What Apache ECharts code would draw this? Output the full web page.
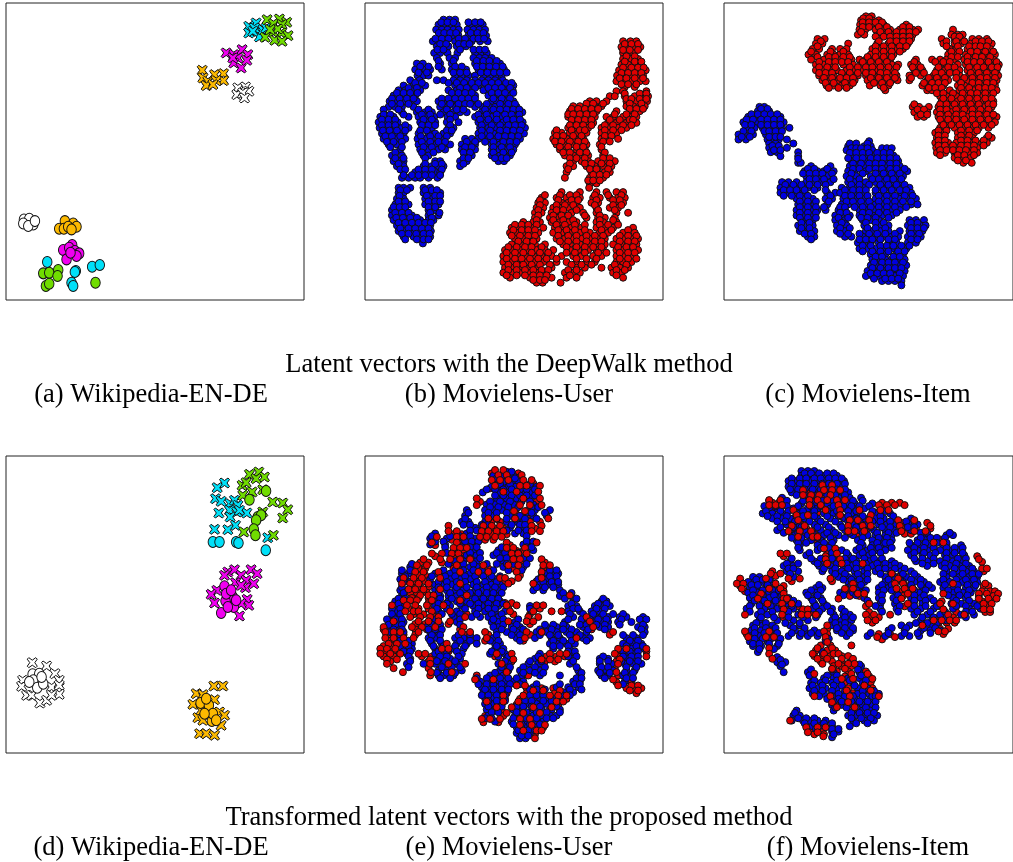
<!DOCTYPE html>
<html><head><meta charset="utf-8">
<script src="https://cdn.jsdelivr.net/npm/echarts@6/dist/echarts.min.js"></script>
<style>html,body{margin:0;padding:0;background:#fff;overflow:hidden}#c{width:1013px;height:862px}</style>
</head><body><div id="c"></div>
<script>
// Each row: [y, x1, x2, ...]
const bBlue=[[60,250,268,285],[75,235,252,270,290,330,350,368],[90,228,245,262,280,296,322,340,358,375],[108,240,258,275,295,325,345,362,378],[125,218,235,252,285,305,335,360,383],[140,230,265,290,305,318],[160,222,240,262,292,345,365,380],[175,230,268,285,340,358,375,395],[192,170,188,240,275,345,365,385,405,420],[210,165,180,195,210,245,275,295,318,355,375,395,415,432],[228,172,190,205,285,305,325,345,370,390,410,425],[242,150,178,230,250,280,300,320,345,365,385,405,428],[258,130,160,175,195,285,305,330,355,378,395,418,440,460],[272,115,135,155,180,265,290,310,335,370,390,410,430,458],[288,100,122,145,165,280,300,320,345,385,405,425,445],[305,88,110,130,150,170,235,250,275,295,315,335,395,410,440,460],[322,85,105,125,160,240,262,285,305,345,368,388,405,430,450,470],[338,125,170,195,215,250,280,300,320,365,385,410,430,450,470,487],[352,60,80,100,145,175,200,222,262,285,345,370,395,425,445,465],[368,55,72,90,112,180,205,225,260,295,355,380,405,430,450,470,488],[385,58,75,95,125,145,190,215,265,280,360,385,410,435,455,475,495],[402,65,85,105,130,175,205,225,250,270,355,375,400,425,445,470,492],[418,70,90,112,135,172,195,215,240,315,335,355,385,410,435,460,480],[435,85,110,175,200,225,250,270,305,325,345,395,420,445,465],[450,120,180,205,235,255,305,325,345,395,418,440,460],[468,95,125,190,205,315,335,395,420,450],[485,100,120,130,225,240,300,320,415,432],[500,110,130,190,215,235,250,300],[518,130,165,185,205,225,240],[535,125,145,165,180,205,232],[565,115,130,150,190,210],[580,115,130,190,215,240],[598,110,130,195,215,235],[615,105,125,145,195,215,235],[632,95,115,135,205,225],[648,95,115,135,155,205,235],[662,100,120,140,160,180,205,220],[678,110,130,150,170,190,210],[695,115,135,155,175,195,212],[712,130,160,180,195,210],[732,188]];
const bBlue2=[[68,243,262,280,325,345,362],[100,236,252,270,288,332,352,370],[117,226,245,265,296,315,340,355,372],[133,240,258,296,312,328],[150,232,250,300,340,358,375],[184,235,280,350,370,388,410],[201,180,205,235,285,305,350,368,388,408,428],[219,175,200,280,300,320,362,382,402,420,440],[250,165,185,265,290,312,335,355,375,395,415,438,455],[265,145,170,300,320,345,385,405,425,450],[280,110,130,150,172,275,295,315,335,395,415,435,460],[297,95,118,140,160,245,265,285,305,325,345,400,425,450],[313,95,120,145,245,270,295,315,330,355,380,420,445,465],[330,70,115,175,205,260,290,310,375,400,420,440,460,478],[345,70,90,130,185,210,240,270,355,380,410,435,455,478],[360,65,85,105,190,215,270,360,385,410,440,460,480],[377,65,85,105,135,185,205,225,270,365,395,420,445,465,485],[393,68,88,110,135,180,200,260,275,365,390,420,440,460,480],[410,75,95,120,182,210,235,260,365,390,415,435,455,475],[427,80,100,125,185,210,235,255,320,345,375,400,430,450,470],[443,90,125,190,215,245,315,335,400,425,450],[459,105,185,220,310,330,400,430,455],[476,105,130,195,310,325,405,425,440],[493,115,195,225,245,310],[510,120,135,175,195,215,245],[527,130,155,175,195,215,240],[572,120,140,195,215,230],[589,118,200,225,240],[606,115,135,205,225,240],[623,100,118,135,205,225],[640,105,125,145,210,238],[655,108,128,150,170,215],[670,115,135,155,175,195,212],[687,120,145,165,185,205],[703,125,145,168,190,208],[720,135,170,190,205]];
const bRed=[[125,790,812,830],[142,785,805,825,842],[160,790,820],[178,790,815,835],[195,785,805,825,845],[212,778,800,820,840,858],[228,772,790,810,830,850],[245,770,790,815,840,858],[262,795,825],[275,770,790,860],[290,750,765,795,825,845,865],[305,690,710,740,800,830,850,862],[320,640,660,685,705,725,800,820,840,855],[335,630,650,670,690,710,770,815,840],[352,625,645,665,685,705,740,760,790,815,830],[370,640,660,680,700,745,770,800,830],[385,625,645,665,685,725,750,775,800],[400,585,605,630,655,680,725,745,770],[418,580,600,620,645,670,725,745,775],[435,590,610,635,660,680,720],[450,600,620,650,675,725],[468,615,640,665,685,730],[485,640,665,685,715,740,765],[500,620,640,680,705,730,755],[518,620,695,715,735,750],[535,615,690,710,730],[552,690,710],[565,688],[578,660,605,710,740,770,790],[595,545,590,620,640,660,700,720,750,775,795],[610,535,555,605,625,650,695,715,770,790],[625,530,550,580,600,625,660,710,750,775],[640,525,545,575,595,635,670,710,770,805],[655,525,570,590,615,680,715,735,765],[668,490,520,540,575,600,625,650,710,730,770],[685,455,475,495,515,550,585,610,635,665,710,735,760,820],[700,450,470,495,515,535,580,605,630,660,690,720,745,790,825],[718,465,490,515,530,590,615,640,665,695,715,735,770,795,815,835],[735,455,480,505,525,555,610,630,660,690,715,735,760,785,810,830],[752,435,455,480,505,530,555,580,630,655,685,710,730,770,790,815,835],[770,430,450,475,495,520,545,575,605,640,665,700,725,770,795,820],[788,430,455,480,500,525,550,590,620,650,680,705,770,790,815],[805,435,460,485,510,535,575,650,675,725,755,780,805],[820,430,455,480,505,530,555,615,640,660,760,785],[835,450,510,530,550,575,620,650,790],[850,530,548,602]];
const bRed2=[[133,795,815,835],[151,790,810,835],[170,800,825],[186,795,825,845],[204,790,815,835,852],[220,785,805,825,845],[236,780,800,825,850],[254,785,805,830],[282,795,840,860],[298,800,815,840,860],[312,680,700,730,810,845],[328,635,655,675,695,715,810,830,850],[344,625,640,660,680,700,765,800,825],[361,635,655,675,695,750,780,810,820],[377,630,650,670,695,735,760,790,815],[392,590,635,660,675,735,760,785],[409,590,610,640,665,735,755],[426,585,605,630,655,675,730,750],[442,600,625,650,670,725],[459,610,630,660,680,735],[476,630,650,675,730,750],[492,630,675,695,725,750],[509,625,690,710,745],[526,700,720,740],[543,685,700,720],[587,555,600,630,650,705,745,785],[602,540,595,635,655,710,760,780],[617,540,590,615,640,705,760,785],[632,535,590,610,650,715,765],[648,535,580,605,625,675,720],[662,530,580,610,640,720,760],[676,465,485,505,530,590,615,645,675,720,745,775],[692,460,485,505,525,595,620,645,675,725,755,805],[709,455,480,505,525,595,625,650,680,705,730,780,805,830],[726,475,500,520,600,625,650,680,705,725,780,805,825],[743,445,470,495,515,545,620,650,675,700,725,775,800,820],[760,440,465,490,515,540,565,620,645,675,715,740,780,805,825],[778,440,465,485,510,535,560,590,650,680,710,780,805,830],[796,445,470,490,515,540,570,635,665,695,765,800],[812,445,470,495,520,545,565,625,650,770,795],[828,440,470,495,520,540,560,630,770],[842,520,540,555]];
const cRed=[[50,450,468],[62,435,450,470,490],[75,432,450,470,490,505,575],[90,430,448,480,500,525,555,575,595,612,720],[105,425,445,490,510,535,555,575,595,715,735,750],[118,322,300,490,530,550,570,590,685,725,745,780,800,825],[132,295,315,395,485,520,540,560,580,690,725,745,775,795,815,840],[148,285,305,345,390,370,470,495,515,540,565,710,730,765,785,810,835],[165,272,295,330,350,370,395,465,490,510,535,705,725,760,780,800,825,850],[180,280,320,345,365,385,405,430,450,475,500,525,605,655,680,700,725,755,775,795,820,845],[195,295,320,350,380,410,435,460,480,505,530,550,590,610,680,700,735,760,780,800,825,850,862],[212,295,315,340,360,390,412,440,460,480,505,530,600,625,670,695,715,740,765,785,810,835,855],[228,305,330,350,380,405,425,450,475,500,525,545,585,620,660,680,700,740,770,790,815,840,860],[242,315,340,365,395,415,455,480,505,530,548,585,640,660,685,705,740,765,790,815,835,855],[258,328,350,375,400,462,495,520,625,650,670,690,735,755,790,810,830,850],[272,510,640,655,680,710,740,760,785,805,830,855],[290,680,700,730,760,785,810,835],[305,685,705,735,755,780,805,825,845],[322,595,615,645,675,695,720,745,770,795,820,840],[338,600,625,640,670,690,715,740,765,790,815,835],[352,610,630,675,695,715,740,765,790,815,835,855],[368,685,705,725,750,775,800,825,850],[385,680,700,725,750,775,800,830],[400,665,690,735,760,785],[415,670,690,735,755,780,840,825],[430,665,685,705,730,755,775,810,825],[445,668,690,710,730,750,770,795],[460,670,695,725,745,770,795],[475,725,745,775],[490,752,778]];
const cRed2=[[56,442,460],[68,440,460,480,500],[82,440,460,490,515,565,585],[97,435,495,520,545,565,585,605],[111,480,505,525,545,565,585,725,740],[125,310,490,525,545,565,585,700,730,755,790,810,830],[140,300,480,505,530,555,575,700,735,770,790,805,825],[156,280,340,380,480,505,530,555,715,740,775,795,820,845],[172,300,335,355,380,400,455,480,505,530,715,735,765,790,810,835],[187,305,335,355,375,395,440,465,490,515,600,665,690,710,765,785,805,830,855],[203,305,330,355,400,425,450,470,495,520,545,595,620,675,705,725,770,795,815,840,858],[220,305,325,345,375,400,425,450,470,495,515,540,605,630,665,685,710,730,775,800,825,850],[235,320,345,370,390,410,465,490,515,540,590,645,670,695,730,755,780,805,825,850],[250,325,350,385,410,475,500,525,630,655,675,695,745,780,800,825,845],[265,335,365,390,505,645,665,685,745,770,800,820,840],[281,670,690,720,750,775,795,820,845],[297,690,715,745,770,795,820,840],[314,600,680,700,725,750,775,800,830,845],[330,610,630,680,700,730,755,780,805,830],[345,620,640,680,705,730,750,780,800,825,845],[360,680,705,730,755,780,805,830],[376,690,715,740,765,790,815,840],[393,675,700,745,770,795],[408,675,695,745,770,830],[423,675,695,745,765,790,815],[438,675,695,720,745,765,785,815],[452,680,700,720,740,760,785],[467,680,735,755,785],[483,735,760]];
const cBlue=[[322,120,135],[335,115,135,150],[352,85,105,125,145,165,185],[368,70,90,115,135,155,175,195],[385,85,105,130,150,170,190,213],[405,55,75,100,140,160,180],[420,55,78,145,165,180,205],[432,150,170,225],[445,150,175,205],[458,155,175,240],[470,185,240],[490,240,248],[425,460],[440,395,445,465],[452,390,410,430,450,470,505,525],[468,410,430,450,475,495,515,535],[485,405,425,445,470,490,510,530,550],[500,280,340,400,420,445,470,490,515,535,555],[515,260,280,300,320,350,395,415,450,490,515,540,560,578],[530,265,285,305,330,390,420,465,500,525,545,565],[548,190,210,235,265,285,310,340,395,415,450,480,505,530,555],[565,185,205,225,245,270,300,375,400,420,440,490,515,540,565,585],[580,185,210,235,255,330,355,370,395,415,445,480,505,530,560,590],[598,235,260,285,325,345,380,400,420,445,480,505,530,555,580,605],[615,240,265,290,330,375,395,425,450,480,505,530,555,590,610],[632,235,260,280,300,325,365,385,430,450,475,500,525,555],[648,235,260,285,355,380,400,430,450,470,500,530],[662,265,285,355,385,440,465,490,585,605,630],[678,240,265,285,360,390,445,495,520,580,600,620,635],[695,245,270,290,360,385,450,470,495,520,555,585,605,625],[712,270,290,385,405,440,460,480,505,530,550,580,600,620],[730,425,445,465,490,520,545,580,605],[748,430,455,480,505,530,555,575],[765,465,490,510,545,565],[780,470,495,510,530,550,570],[798,465,480,510,530,550,575],[815,455,475,510,530,550,570],[830,450,470,490,515,540,565],[845,500,520,540,560],[858,560]];
const cBlue2=[[328,125,145],[344,95,115,135,155,175],[360,80,100,125,145,165,185],[376,75,95,125,145,165,185],[395,70,95,135,150,170,190],[412,65,90,150,170,185],[439,160,180],[452,165,185],[478,240],[432,400,420,455],[446,405,420,435,455,500,515,530],[460,400,420,440,460,485,505,525],[476,395,420,440,465,485,505,525,545],[492,410,435,460,480,500,525,545],[508,270,290,330,410,430,460,480,500,525,545,570],[522,255,275,295,315,345,405,440,480,505,530,555],[539,275,295,320,350,400,430,470,490,515,535,560],[556,200,225,250,275,300,325,405,430,460,495,520,545,570],[572,195,215,235,260,290,325,385,410,430,450,480,505,530,555,575],[589,195,220,245,270,340,385,405,430,455,490,515,540,570,595],[606,245,270,295,335,390,410,435,460,490,515,540,565,590],[623,245,270,295,320,370,385,415,440,465,490,515,540,575],[640,245,270,295,370,390,440,460,490,515,545],[655,245,270,295,365,395,435,455,480,520],[670,250,275,375,450,480,505,590,610],[686,250,275,370,400,455,480,510,590,610,630],[703,260,280,370,395,430,460,485,510,540,590,615],[720,280,430,450,470,495,520,540,590,610],[739,440,465,495,515,535,560,585],[756,440,470,495,520,550,570],[772,480,500,535,555],[789,475,500,520,540,565],[806,470,495,520,540,560],[822,465,485,505,525,555],[838,475,510,530,550]];
const eBlue=[[62,400,425,460],[80,410,435,460,475],[95,395,420,445,465,515,530],[112,368,420,445,490,515],[130,410,440,470,510],[148,380,405,430,460,520],[165,320,375,400,425,505,525,570],[182,315,375,400,450,480,520,560],[200,305,325,375,440,470,490],[218,345,450,480],[235,225,320,465,490],[250,210,260,310,345],[268,210,255,320,340,490,510],[285,340,415,520],[300,320,350,400,425],[318,285,310,350,430],[335,150,300,330,350,430,490],[355,125,145,225,270,295,330,560,580,595],[372,120,210,245,270,300,330,385,405,535,560,585],[388,225,250,275,340,370,395,420,540,565,595],[405,120,225,260,285,310,345,370,395,415,520,550,600],[422,125,240,265,290,335,360,385,410,600,635],[438,105,120,230,265,290,320,350,375,400,420,725,740],[452,105,125,225,270,305,340,365,395,415,510,625,650,705,725,750],[468,110,235,290,345,375,405,435,515,625,660,695,720],[485,100,235,280,335,360,385,415,640,675,705,725,745,780,800,850],[500,85,110,130,290,415,395,465,615,675,700,725,745,775,815,850],[515,95,115,200,230,415,400,455,480,560,590,620,670,690,720,745,835,855],[530,90,130,210,235,410,440,470,530,560,590,620,650,680,855],[548,130,205,230,285,310,350,400,470,525,575,600,640,690,670,800,830],[565,110,155,215,245,290,320,350,405,420,570,590,620,645,790,820,845],[580,130,155,225,280,310,405,430,580,630,815,835,855],[595,140,225,250,305,390,435,540,630,800,825],[610,150,235,270,300,440,525,635,720,745,800,825],[625,140,190,225,250,290,415,445,505,535,630,720,755,795,820,845],[645,235,260,305,420,445,480,510,540,655,715,740,760,800,825],[660,235,250,280,390,430,485,540,600,660,725,745,790,815],[678,360,385,410,435,460,490,640,660,795],[695,365,390,410,435,520,590,625,655],[710,370,395,420,515,545,640,610],[728,375,400,425,520,540,560,590],[745,375,400,415,505,530,560],[762,380,405,460,490,520,545,575,600],[780,385,465,490,520,545,570,590],[798,405,455,500,530,550],[815,470,495,530],[832,470,490,510],[848,480,497]];
const eBlue2=[[50,440,455],[70,410,445,465],[87,420,450,490,510],[103,380,405,430,455,480,500,525],[121,405,430,455,480,500,525],[139,390,420,450,485,510],[156,390,415,445,475,515,535],[173,325,385,410,440,500,515,555],[191,315,385,410,440,465,495,530],[209,310,330,365,385,455,480,495],[226,330,350,440,475,500],[243,215,270,300,330,500],[259,225,250,315,335,355,500,520],[276,255,305,330,350,425,500,515],[293,260,330,360,410,435,475],[309,300,330,360,420,440,490,510],[326,155,265,310,340,380,410,440,460,500],[345,125,150,250,285,310,340,365,400,445,485,570,590],[363,135,215,255,285,315,345,370,395,420,545,570,590],[380,130,150,235,260,290,315,350,375,410,550,575,595],[396,125,235,260,290,320,350,380,405,430,530,555,580],[413,130,235,270,300,330,355,380,400,425,610,635],[430,115,135,240,275,305,345,370,395,415,615,650,730],[445,115,235,260,300,330,355,385,410,430,635,715,740],[460,95,120,230,260,315,355,385,405,510,640,655,710,735],[476,95,120,245,275,300,350,395,425,630,670,700,730,760,790],[492,80,105,125,225,300,400,430,475,625,665,690,715,740,785,840,860],[508,85,105,125,215,240,300,430,470,555,580,610,660,680,710,735,780,850],[522,100,125,205,225,245,425,460,490,540,575,610,635,685,735,845],[539,100,120,215,240,295,330,410,455,480,540,570,595,630,660,790,820,850],[556,120,145,210,240,300,330,390,415,480,580,610,635,680,810,835],[572,120,145,220,250,285,315,410,580,600,625,800,830,850],[588,130,150,235,260,290,395,425,625,645,790,810,835],[603,145,240,260,295,415,445,535,625,650,730,790,815,835],[617,150,230,255,285,435,510,545,640,720,745,785,810,835],[635,145,245,275,300,425,450,490,525,555,650,725,745,800,830],[652,230,260,285,405,440,490,525,550,665,720,750,795,820],[668,240,270,350,380,420,445,470,650,665,735,800,820],[686,355,380,400,425,450,480,530,600,645,660,790],[702,375,400,425,445,510,530,555,630,665],[719,365,385,410,435,510,530,550,605,630],[736,385,410,435,495,515,550,575,600],[753,385,425,470,490,515,540,590],[770,395,415,470,500,530,560,600],[788,375,395,460,500,530,560,580],[806,460,485,510,540],[824,475,505,525],[840,485,505]];
const eRed=[[45,405,430],[60,415,440,485],[75,395,420,445,490,515],[92,405,480,500,540],[110,430,470,535],[130,490,540,350],[150,350,480,510,545],[168,462,495],[190,565,385,410,465],[212,370,395,420,515,545,265],[228,265,290,365,385,410,430,515,540],[245,230,290,310,360,380,405,425],[262,215,290,440,530],[278,280,300,320,440,460,495],[295,215,245,275,295,455,475,500],[312,190,240,270,300,330,460,480,545],[330,170,200,290,370,445,475,550,570],[350,165,190,235,300,355,385,470,545],[368,130,160,185,240,420,435,475,545],[385,125,150,175,205,300,445,520],[402,145,165,190,240],[420,180,205,220,320,630],[435,130,150,170,215,300],[450,95,140,165,200,250,440,470,530,550],[468,135,160,175,215,270,450,520,575,605],[485,150,180,210,235,315,505,535,680],[498,100,175,205,235,270,445,500,520,690],[515,70,155,185,225,310,700],[530,75,100,120,175,305,330,375,500,545,760],[548,75,100,130,160,380,495,650],[565,85,110,135,260],[580,60,80,105,245,265,775,800,860],[595,60,90,120,175,195,410,455,570,600,620,765],[612,80,110,210,460,545,570,595,780],[625,80,210,265,315,425,775],[650,128,212,275,440,770],[672,345,400,760],[690,495,470,775,815,835],[705,520,550,600,810,835],[720,430,490,570,595,620],[738,380,430,475,590,610],[755,410,455,520,575],[772,440,490,540],[790,365,390,420,480,510],[808,480,515,555],[825,490,530,545],[848,525]];
const eRed2=[[55,395,450,475],[68,430,475],[85,435,520],[100,390,525],[122,480,525],[140,360,475,530],[158,470,530],[178,470,510],[200,395,420,510,540],[220,380,405,430,525],[237,280,305,375,395,415,440],[254,220,275,300,375,400],[270,225,295,310,450],[287,290,310,450,470,490],[303,225,285,310,445,470],[322,180,205,245,280,465,490,555],[340,175,195,280,360,385,460,550,570],[360,175,195,245,305,350,480,550],[378,140,165,195,430,455,530],[395,155,180,205,300],[412,150,170,200,230,315],[428,155,175,205,310,640],[443,140,165,205,260,300,435,455],[460,145,175,205,265,445,525,540],[477,160,190,225,320,460,510],[506,165,195,225,265,455,510,685],[522,70,90,165,200,300,695],[538,85,110,130,165,320,385,510,750],[556,90,120,150,375,490,640],[572,70,95,125,255],[588,75,100,130,265,785,860],[603,70,100,185,215,405,560,590,615,775,860],[618,90,205,455,555,585,770],[638,100,205,270,435,765],[660,210,270,350,410,505,775],[680,355,395,480,770,815],[698,500,545,580,800,820,845],[713,440,500,585,610,830],[730,435,480,580,600,620],[747,380,425,470,595],[763,425,470,525,570],[781,375,430,485,530],[800,370,415,490,520],[815,485,550],[836,500,525]];
const fBlue=[[48,250,270,290],[62,250,270,290,315,340,360],[78,210,232,255,280,300,325,345,365,382],[95,210,230,250,275,300,325,350,375],[112,220,245,290,320,345,375,395],[128,190,265,300,340,365,400,435],[145,195,250,290,330,355,395,415,470],[160,150,175,225,270,300,340,385,410,445],[175,130,160,190,245,285,320,350,405,430,480,525],[190,160,190,215,260,300,340,385,420,445,480,505,535,590],[208,205,240,290,325,370,410,455,490,515,545,585,610],[225,175,215,260,310,345,385,430,475,510,535,590],[240,230,270,320,365,410,455,480,510,530,630,700,720],[255,235,280,310,350,425,470,500,530,610,635,660],[270,245,300,330,440,470,495,515,590,620,650,690,745],[285,245,300,345,375,420,455,480,510,580,610,640,680,710,735],[300,265,350,395,430,460,590,625,650,695,720,755],[318,215,290,320,370,395,420,460,490,530,605,640,680,720,750],[332,195,225,305,340,380,405,435,470,495,525,555,640,685,710,740,770],[348,205,240,315,345,375,415,445,480,525,560,590,700,735,760,785],[365,120,100,225,365,395,415,445,510,540,575,610,700,740,770,795],[380,85,105,130,155,395,420,445,510,565,600,630,680,710,750,775,795],[398,90,110,140,170,295,315,395,430,490,520,585,625,655,690,720,760,785],[412,85,115,150,175,265,295,370,410,440,490,545,615,720,750,775],[428,90,115,150,180,210,280,310,445,490,535,590,620,650,720,760],[445,95,130,165,205,240,290,320,460,495,540,590,625,670,715,745,785],[460,80,135,175,225,285,315,345,375,495,545,590,620,660,720,770,805],[478,115,145,195,240,300,350,380,400,600,640,680,745,785],[495,120,175,225,270,345,375,405,620,655,700],[510,100,130,160,215,245,345,370,395,560,585,625,655],[525,95,125,155,230,260,290,360,380,410,520,570,620,650,680],[542,95,120,165,210,245,270,300,390,455,510,560,585,615],[558,90,115,145,180,325],[572,100,125,175],[590,115,315],[605,175],[620,175,200],[632,185,435],[650,195,270,350,430],[668,320,350,395,430],[682,280,310,345,410,440],[698,275,300,325,360,425,455],[715,285,320,365,395,425,460,490],[730,330,365,395,415,440,465],[748,345,375,410,440,470],[765,235,350,415,440,465],[780,225,245,395,420,450,485],[795,220,255,275,300,325,410,445,475],[812,285,305,345,400],[828,345,365],[845,345]];
const fBlue2=[[55,260,280,305,330,350],[70,220,245,265,290,310,335,355,375],[86,220,245,265,290,315,335,360,385],[103,215,240,260,285,310,335,360,385],[120,235,260,300,330,355,385],[137,150,205,255,280,315,350,380,410,440],[153,135,170,205,240,280,310,350,380,405,430,460],[168,140,185,210,255,290,330,360,395,420,470,510],[183,145,175,205,255,290,330,365,395,440,495,535],[199,175,200,230,275,310,355,395,430,470,495,525,575,600],[216,185,225,250,300,335,375,420,465,500,525,580,600],[233,195,240,285,330,355,400,440,485,520,545,620,640,710],[248,220,250,300,340,385,440,490,515,620,650,670,695],[263,240,265,320,345,435,485,510,525,585,610,635,670,700],[278,240,310,335,430,465,490,530,600,630,660,700,725,750],[293,275,345,390,440,470,495,600,630,665,700,725,750],[310,220,280,310,345,385,410,445,475,500,600,625,660,700,735,760],[325,205,240,300,330,360,390,420,450,485,510,540,625,660,695,730,760],[340,210,225,320,355,395,420,455,490,510,540,570,695,725,750,780],[356,215,355,385,425,455,495,530,565,600,690,720,750,780,800],[373,110,130,150,380,405,430,455,520,555,590,620,690,730,760,785],[389,95,115,145,170,305,405,435,500,530,590,620,645,695,735,765,790],[405,100,130,160,180,280,310,385,420,450,505,530,600,635,705,735,770],[420,100,130,165,190,270,300,380,420,500,550,600,630,705,740,765],[436,105,135,170,200,225,285,315,455,500,545,600,635,660,730,770],[452,90,120,155,190,220,295,330,480,555,600,635,670,730,760,795],[469,90,125,160,210,250,305,340,385,500,550,610,650,695,760,780],[486,125,165,210,255,295,355,385,410,625,660,700,760],[503,110,140,200,245,355,385,605,640,670],[518,105,140,170,225,260,360,385,410,530,575,630,665],[533,105,135,175,220,250,280,305,375,400,465,520,570,610,650],[550,105,130,155,185,335],[565,100,120,150,180],[581,120,165],[613,185],[627,190,430],[642,280,345,425],[660,275,330,360,405,435],[675,290,325,360,400,450],[690,285,315,350,375,415,445],[706,290,315,345,385,440,475],[722,305,345,385,410,440,470,480],[738,350,375,405,430,455,480],[756,355,390,420,450,480],[772,230,405,430,455,475],[788,240,265,290,405,435,465],[803,260,290,320,345,420,455],[820,295,345,365],[836,350]];
const fRed=[[90,315,345],[105,255,320,345,370],[120,255,280,305,340],[135,150,185,275,300,330,360,385],[150,150,170,190,275,310,365,490,515,540,570],[165,225,325,370,430,495,520],[180,235,270,370,465],[195,240,400,425,460,550,600],[212,220,260,395,440,465,555,650],[228,210,245,280,395,415,445,560,600,635],[245,240,285,300],[262,660,690],[280,320,355],[295,185,205,360],[312,325,370,800],[325,330,375,440],[340,810,825],[355,155,185,530],[370,60,140,210,245,340,550],[385,50,70,170,410,540,565,720,820],[400,65,150,185,385,410,545,570,595],[415,125,195,425,445,580,690,800,825,860],[430,115,195,205,365,560,800,830,855],[445,145,190,220,460,580,680,720,815,840],[462,195,255,270,690,815,835],[478,75,190,250,270,295,450,475,525,705,755],[495,455,480,660,685,710,730],[510,330,625],[528,75,150,320,675,695],[545,85,140,165,325,485,540],[560,330],[578,150,300,345],[595,150,285,320,350,365],[610,160,300,330,375,410],[625,315,365,395,415],[640,345,385],[655,290,405,455],[670,375,410,470],[690,445],[705,390,465],[722,290,340,400,490],[740,345,395],[755,360,415],[795,215],[815,265,300,325],[830,270,300],[842,318]];
const fRed2=[[100,300,335],[113,265,330,360],[128,260,290,320,350,375],[143,160,180,290,320,355,375,500,530,555],[158,160,185,295,345,505],[172,240,300,355,480],[187,230,255,380,415,440,475],[203,225,245,410,435,560,590,640],[220,235,265,405,430,455,565,605,650],[236,220,260,290,400,420,570,590],[253,250,290,660,680],[270,690,700],[288,330,365],[303,195,325,350,795],[320,335,360,810],[348,160,815],[362,170,535,555],[378,60,145,220,345,530,560],[392,60,165,195,400,535,575,815,830],[408,75,155,195,395,555,580,810,835,850],[422,125,165,400,430,565,590,800,845],[438,130,155,200,210,600,685,810,835],[453,150,200,240,450,570,680,730,825],[470,205,260,280,460,695,730,820,835],[486,195,265,460,490,680,720],[502,470,675,700,725],[520,330,680,705],[536,80,150,330,490,525,690],[552,145,325,500],[570,310,340,405],[585,295,330,355],[602,290,315,340,375,395],[618,310,345,375,405],[632,350,375,405],[648,360,395,450],[663,385,460],[680,385,465],[698,395,470],[713,295,345,410,480],[731,350,405,480],[748,360,390],[765,405],[805,270,310],[822,280,315],[836,290,320]];
// Wikipedia panels: [x,y] per point
const aCrossOrange=[[608,212],[610,235],[625,245],[645,225],[672,222],[672,243],[650,243],[620,258],[640,255]];
const aCrossWhite=[[715,265],[738,262],[748,275],[712,285],[730,280],[735,295]];
const aCrossMagenta=[[680,160],[703,165],[728,150],[745,165],[715,175],[703,190],[725,205],[742,182],[700,175]];
const aCrossCyan=[[770,70],[748,80],[748,100],[775,95],[790,90],[780,112],[765,85],[800,85],[760,95]];
const aCrossGreen=[[803,60],[840,58],[862,68],[822,72],[848,75],[822,98],[846,100],[866,108],[826,122],[848,125],[797,113],[835,88],[812,90]];
const aDotWhite=[[72,660],[88,658],[100,675],[70,672],[85,680],[105,665]];
const aDotOrange=[[195,665],[220,672],[178,688],[192,688],[205,682],[230,682],[215,690]];
const aDotMagenta=[[217,737],[190,752],[208,745],[225,755],[238,762],[200,780],[230,770],[212,760]];
const aDotCyan=[[142,788],[228,815],[225,818],[277,802],[300,797],[215,850],[220,860]];
const aDotGreen=[[175,812],[130,822],[148,820],[173,830],[138,860],[148,853],[287,850]];
const dCrossCyan=[[675,98],[653,112],[648,145],[665,153],[692,160],[705,150],[715,165],[690,180],[658,188],[712,185],[742,188],[692,200],[708,225],[685,238],[645,237],[805,262],[720,180]];
const dCrossGreen=[[750,72],[778,65],[795,80],[728,105],[740,97],[770,85],[790,118],[730,135],[758,125],[820,155],[850,158],[865,178],[850,203],[790,185],[733,245],[822,255]];
const dDotCyan=[[640,275],[660,275],[710,275],[717,278],[799,300]];
const dDotGreen=[[750,148],[800,122],[775,200],[785,195],[770,210],[763,237],[768,255]];
const dCrossMagenta=[[685,365],[705,358],[675,375],[725,375],[755,358],[773,370],[740,390],[708,397],[763,400],[738,412],[725,405],[652,420],[635,432],[645,458],[743,447],[748,465],[725,460],[720,497]];
const dDotMagenta=[[675,408],[700,440],[678,452],[703,470],[665,488],[685,470],[680,430],[695,420],[710,450]];
const dCrossWhite=[[97,637],[140,647],[165,670],[178,690],[68,690],[65,708],[155,710],[178,705],[80,735],[95,735],[178,732],[120,758],[140,750],[155,735]];
const dDotWhite=[[98,672],[118,670],[100,690],[112,712],[130,700],[88,695],[125,680]];
const dCrossOrange=[[643,707],[670,707],[590,730],[610,733],[645,748],[580,762],[605,780],[595,802],[610,810],[660,785],[675,795],[665,825],[600,850],[620,850],[645,855]];
const dDotOrange=[[603,758],[628,765],[637,812],[620,745],[640,790],[615,790],[650,810]];
const captionsTop=["(a) Wikipedia-EN-DE","(b) Movielens-User","(c) Movielens-Item"];
const captionsBottom=["(d) Wikipedia-EN-DE","(e) Movielens-User","(f) Movielens-Item"];
const headings=["Latent vectors with the DeepWalk method","Transformed latent vectors with the proposed method"];

const C={blue:'#0000e0',red:'#e00000',white:'#ffffff',orange:'#fcb900',magenta:'#f000f0',cyan:'#00e0f8',green:'#70dc00'};
const CROSS='path://M1.5 0L5 2.5L8.5 0L10 1.5L7.5 5L10 8.5L8.5 10L5 7.5L1.5 10L0 8.5L2.5 5L0 1.5Z';
const panels=[
 {left:6,top:3,x:[18,914],y:[10,902]},{left:365,top:3,x:[14,910],y:[10,902]},{left:724,top:3,x:[10,906],y:[10,902]},
 {left:6,top:456,x:[18,914],y:[17,908]},{left:365,top:456,x:[14,910],y:[3,892]},{left:724,top:456,x:[10,906],y:[3,892]}];
const grid=[],xAxis=[],yAxis=[],series=[];
panels.forEach((p,i)=>{
 grid.push({left:p.left,top:p.top,width:298,height:297,show:true,borderColor:'#222',borderWidth:1,backgroundColor:'#fff'});
 xAxis.push({gridIndex:i,type:'value',min:p.x[0],max:p.x[1],show:false});
 yAxis.push({gridIndex:i,type:'value',min:p.y[0],max:p.y[1],inverse:true,show:false});
});
const rows=r=>r.flatMap(([y,...xs])=>xs.map(x=>[x,y]));
const dense=(i,data,color)=>series.push({type:'scatter',xAxisIndex:i,yAxisIndex:i,data:rows(data),symbol:'circle',symbolSize:7,itemStyle:{color,borderColor:'#111',borderWidth:1,opacity:1},silent:true});
const cross=(i,data,color)=>series.push({type:'scatter',xAxisIndex:i,yAxisIndex:i,data,symbol:CROSS,symbolSize:10,itemStyle:{color,borderColor:'#111',borderWidth:1,opacity:1},silent:true});
const dot=(i,data,color)=>series.push({type:'scatter',xAxisIndex:i,yAxisIndex:i,data,symbol:'circle',symbolSize:[9.5,11],itemStyle:{color,borderColor:'#111',borderWidth:1,opacity:1},silent:true});
cross(0,aCrossOrange,C.orange);cross(0,aCrossWhite,C.white);cross(0,aCrossMagenta,C.magenta);cross(0,aCrossCyan,C.cyan);cross(0,aCrossGreen,C.green);
dot(0,aDotWhite,C.white);dot(0,aDotOrange,C.orange);dot(0,aDotMagenta,C.magenta);dot(0,aDotCyan,C.cyan);dot(0,aDotGreen,C.green);
dense(1,bBlue,C.blue);dense(1,bBlue2,C.blue);dense(1,bRed,C.red);dense(1,bRed2,C.red);
dense(2,cBlue,C.blue);dense(2,cBlue2,C.blue);dense(2,cRed,C.red);dense(2,cRed2,C.red);
cross(3,dCrossWhite,C.white);cross(3,dCrossOrange,C.orange);cross(3,dCrossMagenta,C.magenta);cross(3,dCrossCyan,C.cyan);cross(3,dCrossGreen,C.green);
dot(3,dDotWhite,C.white);dot(3,dDotOrange,C.orange);dot(3,dDotMagenta,C.magenta);dot(3,dDotCyan,C.cyan);dot(3,dDotGreen,C.green);
dense(4,eRed2,C.red);dense(4,eBlue,C.blue);dense(4,eBlue2,C.blue);dense(4,eRed,C.red);
dense(5,fRed2,C.red);dense(5,fBlue,C.blue);dense(5,fBlue2,C.blue);dense(5,fRed,C.red);

const centers=[151,509,868];
const txt=(text,cx,cy)=>({text,left:cx,top:cy,textAlign:'center',textVerticalAlign:'middle',textStyle:{fontFamily:'Liberation Serif',fontSize:26.5,fontWeight:'normal',color:'#000'},padding:0});
const title=[txt(headings[0],509,365),txt(headings[1],509,818)];
captionsTop.forEach((t,i)=>title.push(txt(t,centers[i],395)));
captionsBottom.forEach((t,i)=>title.push(txt(t,centers[i],848)));
const chart=echarts.init(document.getElementById('c'),null,{renderer:'canvas'});
chart.setOption({animation:false,backgroundColor:'#fff',title,grid,xAxis,yAxis,series,tooltip:{show:false}});
</script></body></html>
